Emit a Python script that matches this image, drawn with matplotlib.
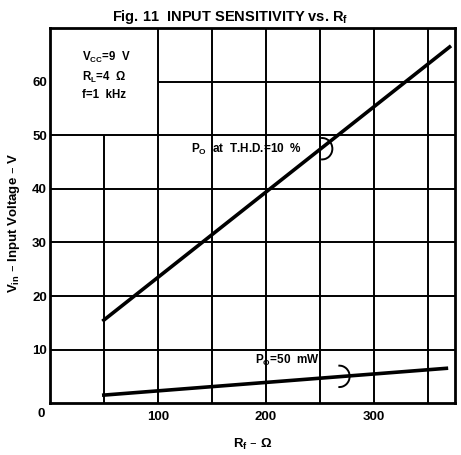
import matplotlib.pyplot as plt
from matplotlib.patches import Arc

# curve data
rf_thd = [50, 370]
vin_thd = [15.5, 66.5]
rf_50mw = [50, 367]
vin_50mw = [1.5, 6.5]

x_ticks = [100, 200, 300]
y_ticks = [10, 20, 30, 40, 50, 60]

plt.rcParams['font.family'] = ['Liberation Sans', 'DejaVu Sans']
plt.rcParams['font.weight'] = 'bold'

fig = plt.figure(figsize=(4.61, 4.55), dpi=100)
ax = fig.add_axes([0.108, 0.114, 0.879, 0.824])
ax.set_xlim(0, 375)
ax.set_ylim(0, 70)

# grid, leaving the condition box (0-100, 50-70) empty
ax.vlines(50, 0, 50, color='black', lw=1.4)
ax.vlines([100, 150, 200, 250, 300, 350], 0, 70, color='black', lw=1.4)
ax.hlines([10, 20, 30, 40, 50], 0, 375, color='black', lw=1.4)
ax.hlines(60, 100, 375, color='black', lw=1.4)

ax.plot(rf_thd, vin_thd, color='black', lw=2.6)
ax.plot(rf_50mw, vin_50mw, color='black', lw=2.6)

ax.add_patch(Arc((252, 47.5), 19, 4.0, theta1=-115, theta2=115, color='black', lw=1.4))
ax.add_patch(Arc((268, 5.0), 19, 4.0, theta1=-115, theta2=115, color='black', lw=1.4))

ax.text(131, 46.8, r'P$_\mathregular{O}$  at  T.H.D.=10  %', fontsize=8.5, fontweight='bold')
ax.text(190, 7.3, r'P$_\mathregular{O}$=50  mW', fontsize=8.5, fontweight='bold')
ax.text(30, 66.0, 'V$_\\mathregular{CC}$=9  V\nR$_\\mathregular{L}$=4  Ω\nf=1  kHz',
        fontsize=8.3, fontweight='bold', va='top', linespacing=1.45)

ax.set_xticks(x_ticks)
ax.set_yticks(y_ticks)
ax.tick_params(axis='x', length=0, labelsize=9.5, pad=6)
ax.tick_params(axis='y', length=0, labelsize=9.5, pad=2)
ax.text(-8, -1.0, '0', ha='center', va='top', fontsize=9.5, fontweight='bold')
for s in ax.spines.values():
    s.set_linewidth(2)

ax.set_xlabel('R$_\\mathregular{f}$ – Ω', fontsize=9.5, fontweight='bold', labelpad=10)
ax.set_ylabel('V$_\\mathregular{in}$ – Input Voltage – V', fontsize=9.5, fontweight='bold')
ax.yaxis.set_label_coords(-0.068, 0.48)
fig.suptitle('Fig. 11  INPUT SENSITIVITY vs. R$_\\mathregular{f}$', y=0.982, fontsize=10.5,
             fontweight='bold')

fig.savefig('out.png', dpi=100)
